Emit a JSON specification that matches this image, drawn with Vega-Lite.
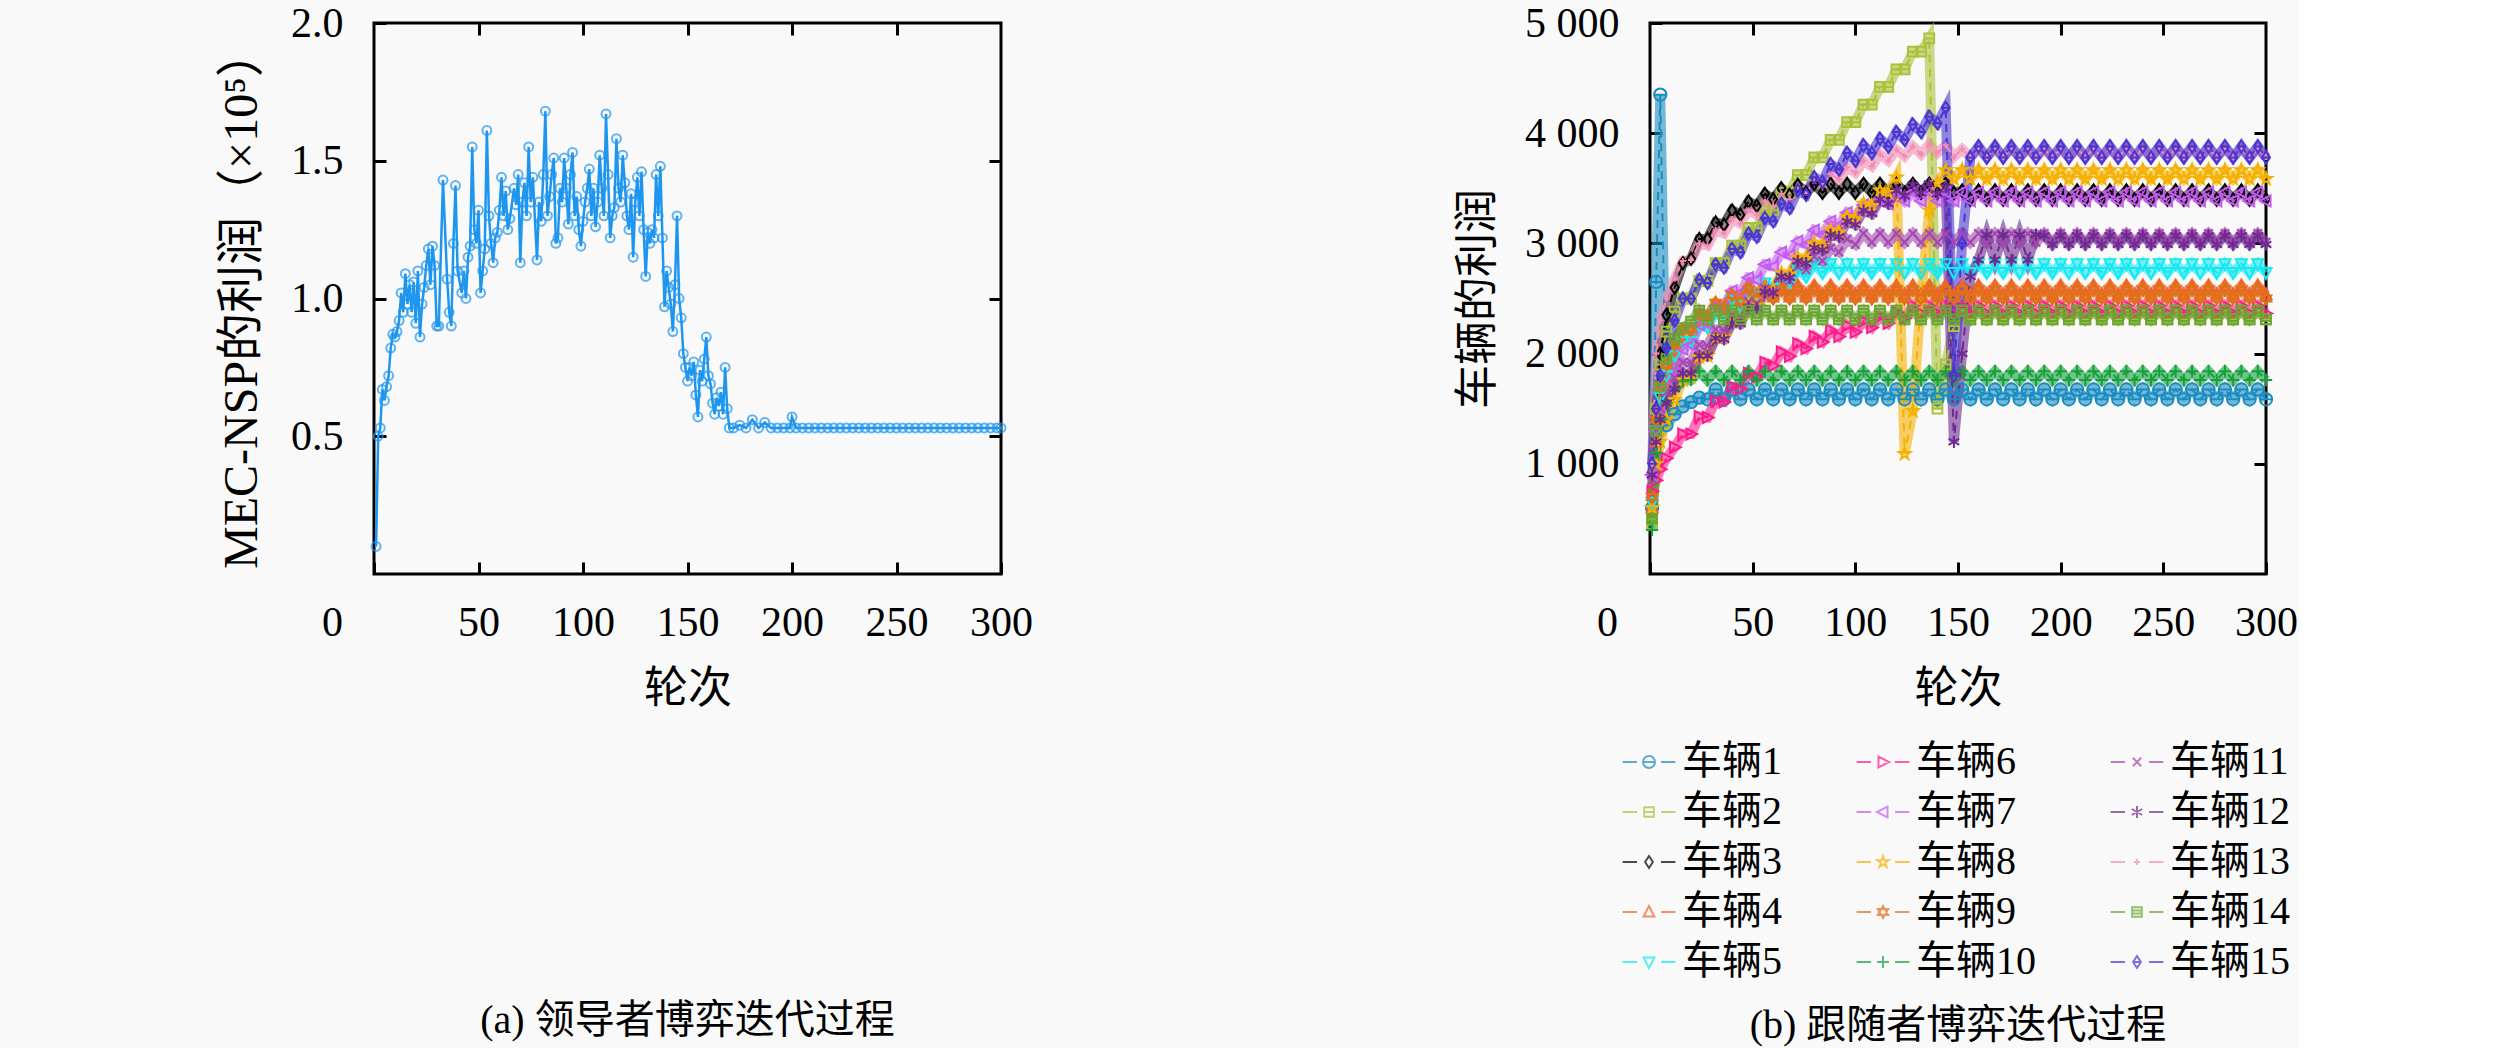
{
"$schema":"https://vega.github.io/schema/vega-lite/v6.json",
"background":"#f9f9f9",
"padding":{"left":216,"top":0,"right":0,"bottom":0},
"spacing":421,
"resolve":{"scale":{"color":"independent","shape":"independent"}},
"config":{
 "font":"Liberation Serif, Noto Sans CJK SC",
 "view":{"stroke":"#000","strokeWidth":3},
 "axis":{"domain":false,"grid":false,"tickColor":"#000","tickWidth":3,"tickSize":-12,"labelColor":"#000","labelFontSize":42,"labelFont":"Liberation Serif","titleFont":"Liberation Serif, Noto Sans CJK SC","titleFontSize":44,"titleFontWeight":"normal","titleColor":"#000","labelFlush":false,"labelOverlap":false},
 "axisX":{"labelPadding":40,"titlePadding":24},
 "axisY":{"labelPadding":43,"titlePadding":24},
 "title":{"fontSize":40,"fontWeight":"normal","color":"#000","font":"Liberation Serif, Noto Sans CJK SC"},
 "legend":{"title":null,"columns":3,"symbolSize":144,"symbolStrokeWidth":2,"labelFontSize":40,"labelFont":"Liberation Serif, Noto Sans CJK SC","labelColor":"#000","labelOffset":13,"rowPadding":10,"columnPadding":70,"labelLimit":300}
},
"hconcat":[
{
 "width":627,"height":551,
 "title":{"text":"(a) 领导者博弈迭代过程","orient":"bottom","offset":290,"anchor":"middle"},
 "data":{"values":[
{"r":1,"p":0.10},{"r":2,"p":0.50},{"r":3,"p":0.53},{"r":4,"p":0.67},{"r":5,"p":0.63},{"r":6,"p":0.68},{"r":7,"p":0.72},{"r":8,"p":0.82},{"r":9,"p":0.87},{"r":10,"p":0.86},
{"r":11,"p":0.88},{"r":12,"p":0.92},{"r":13,"p":1.02},{"r":14,"p":0.95},{"r":15,"p":1.09},{"r":16,"p":0.98},{"r":17,"p":1.05},{"r":18,"p":0.95},{"r":19,"p":1.06},{"r":20,"p":0.91},
{"r":21,"p":1.10},{"r":22,"p":0.86},{"r":23,"p":0.98},{"r":24,"p":1.04},{"r":25,"p":1.12},{"r":26,"p":1.18},{"r":27,"p":1.05},{"r":28,"p":1.19},{"r":29,"p":1.12},{"r":30,"p":0.90},
{"r":31,"p":0.90},{"r":33,"p":1.43},{"r":35,"p":1.07},{"r":36,"p":0.95},{"r":37,"p":0.90},{"r":38,"p":1.20},{"r":39,"p":1.41},{"r":40,"p":1.10},{"r":42,"p":1.02},{"r":43,"p":1.10},
{"r":44,"p":1.00},{"r":45,"p":1.15},{"r":46,"p":1.19},{"r":47,"p":1.55},{"r":48,"p":1.25},{"r":49,"p":1.20},{"r":50,"p":1.32},{"r":51,"p":1.02},{"r":52,"p":1.10},{"r":53,"p":1.18},
{"r":54,"p":1.61},{"r":55,"p":1.30},{"r":56,"p":1.20},{"r":57,"p":1.13},{"r":58,"p":1.22},{"r":59,"p":1.24},{"r":60,"p":1.32},{"r":61,"p":1.44},{"r":62,"p":1.30},{"r":63,"p":1.39},
{"r":64,"p":1.25},{"r":65,"p":1.29},{"r":67,"p":1.40},{"r":68,"p":1.34},{"r":69,"p":1.45},{"r":70,"p":1.13},{"r":71,"p":1.35},{"r":72,"p":1.42},{"r":73,"p":1.30},{"r":74,"p":1.55},
{"r":75,"p":1.35},{"r":76,"p":1.44},{"r":78,"p":1.14},{"r":79,"p":1.35},{"r":80,"p":1.28},{"r":81,"p":1.45},{"r":82,"p":1.68},{"r":83,"p":1.30},{"r":84,"p":1.37},{"r":85,"p":1.45},
{"r":86,"p":1.51},{"r":87,"p":1.20},{"r":88,"p":1.22},{"r":89,"p":1.40},{"r":90,"p":1.35},{"r":91,"p":1.51},{"r":92,"p":1.40},{"r":93,"p":1.27},{"r":94,"p":1.45},{"r":95,"p":1.53},
{"r":96,"p":1.30},{"r":97,"p":1.37},{"r":98,"p":1.25},{"r":99,"p":1.19},{"r":100,"p":1.28},{"r":101,"p":1.35},{"r":102,"p":1.40},{"r":103,"p":1.47},{"r":104,"p":1.30},{"r":105,"p":1.40},
{"r":106,"p":1.26},{"r":107,"p":1.35},{"r":108,"p":1.52},{"r":109,"p":1.40},{"r":110,"p":1.30},{"r":111,"p":1.67},{"r":112,"p":1.45},{"r":113,"p":1.22},{"r":114,"p":1.30},{"r":115,"p":1.33},
{"r":116,"p":1.58},{"r":117,"p":1.40},{"r":118,"p":1.35},{"r":119,"p":1.52},{"r":120,"p":1.42},{"r":121,"p":1.30},{"r":122,"p":1.25},{"r":123,"p":1.38},{"r":124,"p":1.15},{"r":125,"p":1.35},
{"r":126,"p":1.44},{"r":127,"p":1.30},{"r":128,"p":1.46},{"r":129,"p":1.25},{"r":130,"p":1.08},{"r":131,"p":1.24},{"r":132,"p":1.20},{"r":133,"p":1.25},{"r":134,"p":1.22},{"r":135,"p":1.45},
{"r":136,"p":1.30},{"r":137,"p":1.48},{"r":138,"p":1.22},{"r":139,"p":0.97},{"r":140,"p":1.10},{"r":141,"p":1.04},{"r":142,"p":0.98},{"r":143,"p":0.88},{"r":144,"p":1.05},{"r":145,"p":1.30},
{"r":146,"p":1.00},{"r":147,"p":0.93},{"r":148,"p":0.80},{"r":149,"p":0.75},{"r":150,"p":0.70},{"r":151,"p":0.75},{"r":152,"p":0.72},{"r":153,"p":0.77},{"r":154,"p":0.65},{"r":155,"p":0.57},
{"r":156,"p":0.74},{"r":157,"p":0.70},{"r":158,"p":0.78},{"r":159,"p":0.86},{"r":160,"p":0.72},{"r":161,"p":0.69},{"r":162,"p":0.62},{"r":163,"p":0.58},{"r":164,"p":0.64},{"r":165,"p":0.61},
{"r":166,"p":0.66},{"r":167,"p":0.58},{"r":168,"p":0.75},{"r":169,"p":0.60},{"r":170,"p":0.53},{"r":172,"p":0.53},{"r":175,"p":0.54},{"r":178,"p":0.53},{"r":181,"p":0.56},{"r":184,"p":0.53},
{"r":187,"p":0.55},{"r":190,"p":0.53},{"r":193,"p":0.53},{"r":196,"p":0.53},{"r":199,"p":0.53},{"r":200,"p":0.57},{"r":202,"p":0.53},{"r":205,"p":0.53},{"r":208,"p":0.53},{"r":211,"p":0.53},
{"r":214,"p":0.53},{"r":217,"p":0.53},{"r":220,"p":0.53},{"r":223,"p":0.53},{"r":226,"p":0.53},{"r":229,"p":0.53},{"r":232,"p":0.53},{"r":235,"p":0.53},{"r":238,"p":0.53},{"r":241,"p":0.53},
{"r":244,"p":0.53},{"r":247,"p":0.53},{"r":250,"p":0.53},{"r":253,"p":0.53},{"r":256,"p":0.53},{"r":259,"p":0.53},{"r":262,"p":0.53},{"r":265,"p":0.53},{"r":268,"p":0.53},{"r":271,"p":0.53},
{"r":274,"p":0.53},{"r":277,"p":0.53},{"r":280,"p":0.53},{"r":283,"p":0.53},{"r":286,"p":0.53},{"r":289,"p":0.53},{"r":292,"p":0.53},{"r":295,"p":0.53},{"r":298,"p":0.53},{"r":300,"p":0.53}
 ]},
 "layer":[
  {"mark":{"type":"line","color":"#1e96f0","strokeWidth":2.5},
   "encoding":{
    "x":{"field":"r","type":"quantitative","scale":{"domain":[0,300],"nice":false,"zero":false},"axis":{"values":[0,50,100,150,200,250,300],"title":"轮次","labelOffset":{"condition":{"test":"datum.value===0","value":-42},"value":0}}},
    "y":{"field":"p","type":"quantitative","scale":{"domain":[0,2],"nice":false},"axis":{"values":[0.5,1,1.5,2],"format":".1f","title":"MEC-NSP的利润（×10⁵）","titleFontSize":48}}}},
  {"mark":{"type":"point","shape":"circle","filled":false,"color":"#1e96f0","size":80,"strokeWidth":2},
   "encoding":{
    "x":{"field":"r","type":"quantitative","scale":{"domain":[0,300],"nice":false,"zero":false},"axis":null},
    "y":{"field":"p","type":"quantitative","scale":{"domain":[0,2],"nice":false},"axis":null}}},
  {"mark":{"type":"point","opacity":0},
   "encoding":{
    "x":{"field":"r","type":"quantitative","scale":{"domain":[0,300],"nice":false,"zero":false},"axis":{"orient":"top","labels":false,"title":null,"values":[50,100,150,200,250]}},
    "y":{"field":"p","type":"quantitative","scale":{"domain":[0,2],"nice":false},"axis":{"orient":"right","labels":false,"title":null,"values":[0.5,1,1.5]}}}}
 ],
 "resolve":{"axis":{"x":"independent","y":"independent"}}
},
{
 "width":616,"height":551,
 "title":{"text":"(b) 跟随者博弈迭代过程","orient":"bottom","offset":24,"anchor":"middle"},
 "data":{"values":[
{"v":1,"r":1,"y":600},{"v":1,"r":3,"y":2650},{"v":1,"r":5,"y":4350},{"v":1,"r":8,"y":1350},{"v":1,"r":12,"y":1450},{"v":1,"r":16,"y":1520},{"v":1,"r":20,"y":1560},{"v":1,"r":24,"y":1600},
{"v":1,"r":28,"y":1585},{"v":1,"r":32,"y":1675},{"v":1,"r":36,"y":1585},{"v":1,"r":40,"y":1675},{"v":1,"r":44,"y":1585},{"v":1,"r":48,"y":1675},{"v":1,"r":52,"y":1585},{"v":1,"r":56,"y":1675},{"v":1,"r":60,"y":1585},{"v":1,"r":64,"y":1675},{"v":1,"r":68,"y":1585},{"v":1,"r":72,"y":1675},{"v":1,"r":76,"y":1585},{"v":1,"r":80,"y":1675},{"v":1,"r":84,"y":1585},{"v":1,"r":88,"y":1675},{"v":1,"r":92,"y":1585},{"v":1,"r":96,"y":1675},{"v":1,"r":100,"y":1585},{"v":1,"r":104,"y":1675},{"v":1,"r":108,"y":1585},{"v":1,"r":112,"y":1675},{"v":1,"r":116,"y":1585},{"v":1,"r":120,"y":1675},{"v":1,"r":124,"y":1585},{"v":1,"r":128,"y":1675},{"v":1,"r":132,"y":1585},{"v":1,"r":136,"y":1675},{"v":1,"r":140,"y":1585},{"v":1,"r":144,"y":1675},{"v":1,"r":148,"y":1585},{"v":1,"r":152,"y":1675},{"v":1,"r":156,"y":1585},{"v":1,"r":160,"y":1675},{"v":1,"r":164,"y":1585},{"v":1,"r":168,"y":1675},{"v":1,"r":172,"y":1585},{"v":1,"r":176,"y":1675},{"v":1,"r":180,"y":1585},{"v":1,"r":184,"y":1675},{"v":1,"r":188,"y":1585},{"v":1,"r":192,"y":1675},{"v":1,"r":196,"y":1585},{"v":1,"r":200,"y":1675},{"v":1,"r":204,"y":1585},{"v":1,"r":208,"y":1675},{"v":1,"r":212,"y":1585},{"v":1,"r":216,"y":1675},{"v":1,"r":220,"y":1585},{"v":1,"r":224,"y":1675},{"v":1,"r":228,"y":1585},{"v":1,"r":232,"y":1675},{"v":1,"r":236,"y":1585},{"v":1,"r":240,"y":1675},{"v":1,"r":244,"y":1585},{"v":1,"r":248,"y":1675},{"v":1,"r":252,"y":1585},{"v":1,"r":256,"y":1675},{"v":1,"r":260,"y":1585},{"v":1,"r":264,"y":1675},{"v":1,"r":268,"y":1585},{"v":1,"r":272,"y":1675},{"v":1,"r":276,"y":1585},{"v":1,"r":280,"y":1675},{"v":1,"r":284,"y":1585},{"v":1,"r":288,"y":1675},{"v":1,"r":292,"y":1585},{"v":1,"r":296,"y":1675},{"v":1,"r":300,"y":1585},
{"v":2,"r":1,"y":450},{"v":2,"r":3,"y":1500},{"v":2,"r":5,"y":1900},{"v":2,"r":8,"y":2200},{"v":2,"r":12,"y":2380},{"v":2,"r":16,"y":2500},{"v":2,"r":20,"y":2500},{"v":2,"r":24,"y":2660},{"v":2,"r":28,"y":2660},{"v":2,"r":32,"y":2820},{"v":2,"r":36,"y":2820},{"v":2,"r":40,"y":2980},{"v":2,"r":44,"y":2980},{"v":2,"r":48,"y":3140},{"v":2,"r":52,"y":3140},{"v":2,"r":56,"y":3300},{"v":2,"r":60,"y":3300},{"v":2,"r":64,"y":3460},{"v":2,"r":68,"y":3460},{"v":2,"r":72,"y":3620},{"v":2,"r":76,"y":3620},{"v":2,"r":80,"y":3780},{"v":2,"r":84,"y":3780},{"v":2,"r":88,"y":3940},{"v":2,"r":92,"y":3940},{"v":2,"r":96,"y":4100},{"v":2,"r":100,"y":4100},{"v":2,"r":104,"y":4260},{"v":2,"r":108,"y":4260},{"v":2,"r":112,"y":4420},{"v":2,"r":116,"y":4420},{"v":2,"r":120,"y":4580},{"v":2,"r":124,"y":4580},{"v":2,"r":128,"y":4740},{"v":2,"r":132,"y":4740},{"v":2,"r":136,"y":4860},{"v":2,"r":140,"y":1500},{"v":2,"r":144,"y":1900},{"v":2,"r":148,"y":2250},
{"v":2,"r":152,"y":2390},{"v":2,"r":156,"y":2310},{"v":2,"r":160,"y":2390},{"v":2,"r":164,"y":2310},{"v":2,"r":168,"y":2390},{"v":2,"r":172,"y":2310},{"v":2,"r":176,"y":2390},{"v":2,"r":180,"y":2310},{"v":2,"r":184,"y":2390},{"v":2,"r":188,"y":2310},{"v":2,"r":192,"y":2390},{"v":2,"r":196,"y":2310},{"v":2,"r":200,"y":2390},{"v":2,"r":204,"y":2310},{"v":2,"r":208,"y":2390},{"v":2,"r":212,"y":2310},{"v":2,"r":216,"y":2390},{"v":2,"r":220,"y":2310},{"v":2,"r":224,"y":2390},{"v":2,"r":228,"y":2310},{"v":2,"r":232,"y":2390},{"v":2,"r":236,"y":2310},{"v":2,"r":240,"y":2390},{"v":2,"r":244,"y":2310},{"v":2,"r":248,"y":2390},{"v":2,"r":252,"y":2310},{"v":2,"r":256,"y":2390},{"v":2,"r":260,"y":2310},{"v":2,"r":264,"y":2390},{"v":2,"r":268,"y":2310},{"v":2,"r":272,"y":2390},{"v":2,"r":276,"y":2310},{"v":2,"r":280,"y":2390},{"v":2,"r":284,"y":2310},{"v":2,"r":288,"y":2390},{"v":2,"r":292,"y":2310},{"v":2,"r":296,"y":2390},{"v":2,"r":300,"y":2310},
{"v":3,"r":1,"y":700},{"v":3,"r":3,"y":1500},{"v":3,"r":5,"y":2000},{"v":3,"r":8,"y":2350},{"v":3,"r":12,"y":2600},{"v":3,"r":16,"y":2820},{"v":3,"r":20,"y":2860},{"v":3,"r":24,"y":3040},{"v":3,"r":28,"y":3040},{"v":3,"r":32,"y":3190},{"v":3,"r":36,"y":3170},{"v":3,"r":40,"y":3300},{"v":3,"r":44,"y":3260},{"v":3,"r":48,"y":3380},{"v":3,"r":52,"y":3340},{"v":3,"r":56,"y":3450},{"v":3,"r":60,"y":3400},{"v":3,"r":64,"y":3500},{"v":3,"r":68,"y":3440},{"v":3,"r":72,"y":3530},{"v":3,"r":76,"y":3460},
{"v":3,"r":80,"y":3540},{"v":3,"r":84,"y":3460},{"v":3,"r":88,"y":3540},{"v":3,"r":92,"y":3460},{"v":3,"r":96,"y":3540},{"v":3,"r":100,"y":3460},{"v":3,"r":104,"y":3540},{"v":3,"r":108,"y":3460},{"v":3,"r":112,"y":3540},{"v":3,"r":116,"y":3460},{"v":3,"r":120,"y":3540},{"v":3,"r":124,"y":3460},{"v":3,"r":128,"y":3540},{"v":3,"r":132,"y":3460},{"v":3,"r":136,"y":3540},{"v":3,"r":140,"y":3460},{"v":3,"r":144,"y":3540},{"v":3,"r":148,"y":3460},
{"v":3,"r":152,"y":3480},{"v":3,"r":156,"y":3400},{"v":3,"r":160,"y":3480},{"v":3,"r":164,"y":3400},{"v":3,"r":168,"y":3480},{"v":3,"r":172,"y":3400},{"v":3,"r":176,"y":3480},{"v":3,"r":180,"y":3400},{"v":3,"r":184,"y":3480},{"v":3,"r":188,"y":3400},{"v":3,"r":192,"y":3480},{"v":3,"r":196,"y":3400},{"v":3,"r":200,"y":3480},{"v":3,"r":204,"y":3400},{"v":3,"r":208,"y":3480},{"v":3,"r":212,"y":3400},{"v":3,"r":216,"y":3480},{"v":3,"r":220,"y":3400},{"v":3,"r":224,"y":3480},{"v":3,"r":228,"y":3400},{"v":3,"r":232,"y":3480},{"v":3,"r":236,"y":3400},{"v":3,"r":240,"y":3480},{"v":3,"r":244,"y":3400},{"v":3,"r":248,"y":3480},{"v":3,"r":252,"y":3400},{"v":3,"r":256,"y":3480},{"v":3,"r":260,"y":3400},{"v":3,"r":264,"y":3480},{"v":3,"r":268,"y":3400},{"v":3,"r":272,"y":3480},{"v":3,"r":276,"y":3400},{"v":3,"r":280,"y":3480},{"v":3,"r":284,"y":3400},{"v":3,"r":288,"y":3480},{"v":3,"r":292,"y":3400},{"v":3,"r":296,"y":3480},{"v":3,"r":300,"y":3400},
{"v":4,"r":1,"y":600},{"v":4,"r":3,"y":1200},{"v":4,"r":5,"y":1500},{"v":4,"r":8,"y":1750},{"v":4,"r":12,"y":1950},{"v":4,"r":16,"y":2120},{"v":4,"r":20,"y":2140},{"v":4,"r":24,"y":2300},{"v":4,"r":28,"y":2290},{"v":4,"r":32,"y":2430},{"v":4,"r":36,"y":2400},{"v":4,"r":40,"y":2530},{"v":4,"r":44,"y":2490},
{"v":4,"r":48,"y":2615},{"v":4,"r":52,"y":2535},{"v":4,"r":56,"y":2615},{"v":4,"r":60,"y":2535},{"v":4,"r":64,"y":2615},{"v":4,"r":68,"y":2535},{"v":4,"r":72,"y":2615},{"v":4,"r":76,"y":2535},{"v":4,"r":80,"y":2615},{"v":4,"r":84,"y":2535},{"v":4,"r":88,"y":2615},{"v":4,"r":92,"y":2535},{"v":4,"r":96,"y":2615},{"v":4,"r":100,"y":2535},{"v":4,"r":104,"y":2615},{"v":4,"r":108,"y":2535},{"v":4,"r":112,"y":2615},{"v":4,"r":116,"y":2535},{"v":4,"r":120,"y":2615},{"v":4,"r":124,"y":2535},{"v":4,"r":128,"y":2615},{"v":4,"r":132,"y":2535},{"v":4,"r":136,"y":2615},{"v":4,"r":140,"y":2535},{"v":4,"r":144,"y":2615},{"v":4,"r":148,"y":2535},{"v":4,"r":152,"y":2615},{"v":4,"r":156,"y":2535},{"v":4,"r":160,"y":2615},{"v":4,"r":164,"y":2535},{"v":4,"r":168,"y":2615},{"v":4,"r":172,"y":2535},{"v":4,"r":176,"y":2615},{"v":4,"r":180,"y":2535},{"v":4,"r":184,"y":2615},{"v":4,"r":188,"y":2535},{"v":4,"r":192,"y":2615},{"v":4,"r":196,"y":2535},{"v":4,"r":200,"y":2615},{"v":4,"r":204,"y":2535},{"v":4,"r":208,"y":2615},{"v":4,"r":212,"y":2535},{"v":4,"r":216,"y":2615},{"v":4,"r":220,"y":2535},{"v":4,"r":224,"y":2615},{"v":4,"r":228,"y":2535},{"v":4,"r":232,"y":2615},{"v":4,"r":236,"y":2535},{"v":4,"r":240,"y":2615},{"v":4,"r":244,"y":2535},{"v":4,"r":248,"y":2615},{"v":4,"r":252,"y":2535},{"v":4,"r":256,"y":2615},{"v":4,"r":260,"y":2535},{"v":4,"r":264,"y":2615},{"v":4,"r":268,"y":2535},{"v":4,"r":272,"y":2615},{"v":4,"r":276,"y":2535},{"v":4,"r":280,"y":2615},{"v":4,"r":284,"y":2535},{"v":4,"r":288,"y":2615},{"v":4,"r":292,"y":2535},{"v":4,"r":296,"y":2615},{"v":4,"r":300,"y":2535},
{"v":5,"r":1,"y":650},{"v":5,"r":3,"y":1300},{"v":5,"r":5,"y":1600},{"v":5,"r":8,"y":1800},{"v":5,"r":12,"y":1980},{"v":5,"r":16,"y":2110},{"v":5,"r":20,"y":2110},{"v":5,"r":24,"y":2260},{"v":5,"r":28,"y":2240},{"v":5,"r":32,"y":2380},{"v":5,"r":36,"y":2350},{"v":5,"r":40,"y":2480},{"v":5,"r":44,"y":2440},{"v":5,"r":48,"y":2560},{"v":5,"r":52,"y":2520},{"v":5,"r":56,"y":2640},{"v":5,"r":60,"y":2590},{"v":5,"r":64,"y":2700},{"v":5,"r":68,"y":2650},{"v":5,"r":72,"y":2760},{"v":5,"r":76,"y":2700},
{"v":5,"r":80,"y":2815},{"v":5,"r":84,"y":2735},{"v":5,"r":88,"y":2815},{"v":5,"r":92,"y":2735},{"v":5,"r":96,"y":2815},{"v":5,"r":100,"y":2735},{"v":5,"r":104,"y":2815},{"v":5,"r":108,"y":2735},{"v":5,"r":112,"y":2815},{"v":5,"r":116,"y":2735},{"v":5,"r":120,"y":2815},{"v":5,"r":124,"y":2735},{"v":5,"r":128,"y":2815},{"v":5,"r":132,"y":2735},{"v":5,"r":136,"y":2815},{"v":5,"r":140,"y":2735},{"v":5,"r":144,"y":2815},{"v":5,"r":148,"y":2735},{"v":5,"r":152,"y":2815},{"v":5,"r":156,"y":2735},{"v":5,"r":160,"y":2815},{"v":5,"r":164,"y":2735},{"v":5,"r":168,"y":2815},{"v":5,"r":172,"y":2735},{"v":5,"r":176,"y":2815},{"v":5,"r":180,"y":2735},{"v":5,"r":184,"y":2815},{"v":5,"r":188,"y":2735},{"v":5,"r":192,"y":2815},{"v":5,"r":196,"y":2735},{"v":5,"r":200,"y":2815},{"v":5,"r":204,"y":2735},{"v":5,"r":208,"y":2815},{"v":5,"r":212,"y":2735},{"v":5,"r":216,"y":2815},{"v":5,"r":220,"y":2735},{"v":5,"r":224,"y":2815},{"v":5,"r":228,"y":2735},{"v":5,"r":232,"y":2815},{"v":5,"r":236,"y":2735},{"v":5,"r":240,"y":2815},{"v":5,"r":244,"y":2735},{"v":5,"r":248,"y":2815},{"v":5,"r":252,"y":2735},{"v":5,"r":256,"y":2815},{"v":5,"r":260,"y":2735},{"v":5,"r":264,"y":2815},{"v":5,"r":268,"y":2735},{"v":5,"r":272,"y":2815},{"v":5,"r":276,"y":2735},{"v":5,"r":280,"y":2815},{"v":5,"r":284,"y":2735},{"v":5,"r":288,"y":2815},{"v":5,"r":292,"y":2735},{"v":5,"r":296,"y":2815},{"v":5,"r":300,"y":2735},
{"v":6,"r":1,"y":750},{"v":6,"r":3,"y":850},{"v":6,"r":5,"y":950},{"v":6,"r":8,"y":1050},{"v":6,"r":12,"y":1150},{"v":6,"r":16,"y":1270},{"v":6,"r":20,"y":1270},{"v":6,"r":24,"y":1430},{"v":6,"r":28,"y":1420},{"v":6,"r":32,"y":1570},{"v":6,"r":36,"y":1560},{"v":6,"r":40,"y":1700},{"v":6,"r":44,"y":1680},{"v":6,"r":48,"y":1820},{"v":6,"r":52,"y":1790},{"v":6,"r":56,"y":1920},{"v":6,"r":60,"y":1890},{"v":6,"r":64,"y":2015},{"v":6,"r":68,"y":1975},{"v":6,"r":72,"y":2090},{"v":6,"r":76,"y":2045},{"v":6,"r":80,"y":2155},{"v":6,"r":84,"y":2105},{"v":6,"r":88,"y":2210},{"v":6,"r":92,"y":2155},{"v":6,"r":96,"y":2255},{"v":6,"r":100,"y":2195},{"v":6,"r":104,"y":2295},{"v":6,"r":108,"y":2235},{"v":6,"r":112,"y":2335},{"v":6,"r":116,"y":2275},{"v":6,"r":120,"y":2375},{"v":6,"r":124,"y":2320},
{"v":6,"r":128,"y":2435},{"v":6,"r":132,"y":2365},{"v":6,"r":136,"y":2435},{"v":6,"r":140,"y":2365},{"v":6,"r":144,"y":2435},{"v":6,"r":148,"y":2365},{"v":6,"r":152,"y":2435},{"v":6,"r":156,"y":2365},{"v":6,"r":160,"y":2435},{"v":6,"r":164,"y":2365},{"v":6,"r":168,"y":2435},{"v":6,"r":172,"y":2365},{"v":6,"r":176,"y":2435},{"v":6,"r":180,"y":2365},{"v":6,"r":184,"y":2435},{"v":6,"r":188,"y":2365},{"v":6,"r":192,"y":2435},{"v":6,"r":196,"y":2365},{"v":6,"r":200,"y":2435},{"v":6,"r":204,"y":2365},{"v":6,"r":208,"y":2435},{"v":6,"r":212,"y":2365},{"v":6,"r":216,"y":2435},{"v":6,"r":220,"y":2365},{"v":6,"r":224,"y":2435},{"v":6,"r":228,"y":2365},{"v":6,"r":232,"y":2435},{"v":6,"r":236,"y":2365},{"v":6,"r":240,"y":2435},{"v":6,"r":244,"y":2365},{"v":6,"r":248,"y":2435},{"v":6,"r":252,"y":2365},{"v":6,"r":256,"y":2435},{"v":6,"r":260,"y":2365},{"v":6,"r":264,"y":2435},{"v":6,"r":268,"y":2365},{"v":6,"r":272,"y":2435},{"v":6,"r":276,"y":2365},{"v":6,"r":280,"y":2435},{"v":6,"r":284,"y":2365},{"v":6,"r":288,"y":2435},{"v":6,"r":292,"y":2365},{"v":6,"r":296,"y":2435},{"v":6,"r":300,"y":2365},
{"v":7,"r":1,"y":900},{"v":7,"r":3,"y":1300},{"v":7,"r":5,"y":1500},{"v":7,"r":8,"y":1700},{"v":7,"r":12,"y":1880},{"v":7,"r":16,"y":2040},{"v":7,"r":20,"y":2080},{"v":7,"r":24,"y":2260},{"v":7,"r":28,"y":2270},{"v":7,"r":32,"y":2430},{"v":7,"r":36,"y":2420},{"v":7,"r":40,"y":2570},{"v":7,"r":44,"y":2550},{"v":7,"r":48,"y":2690},{"v":7,"r":52,"y":2670},{"v":7,"r":56,"y":2810},{"v":7,"r":60,"y":2790},{"v":7,"r":64,"y":2920},{"v":7,"r":68,"y":2890},{"v":7,"r":72,"y":3020},{"v":7,"r":76,"y":2990},{"v":7,"r":80,"y":3120},{"v":7,"r":84,"y":3080},{"v":7,"r":88,"y":3200},{"v":7,"r":92,"y":3160},{"v":7,"r":96,"y":3280},{"v":7,"r":100,"y":3240},{"v":7,"r":104,"y":3350},{"v":7,"r":108,"y":3300},{"v":7,"r":112,"y":3410},{"v":7,"r":116,"y":3360},{"v":7,"r":120,"y":3460},
{"v":7,"r":124,"y":3385},{"v":7,"r":128,"y":3465},{"v":7,"r":132,"y":3385},{"v":7,"r":136,"y":3465},{"v":7,"r":140,"y":3385},{"v":7,"r":144,"y":3465},{"v":7,"r":148,"y":3385},{"v":7,"r":152,"y":3465},{"v":7,"r":156,"y":3385},{"v":7,"r":160,"y":3465},{"v":7,"r":164,"y":3385},{"v":7,"r":168,"y":3465},{"v":7,"r":172,"y":3385},{"v":7,"r":176,"y":3465},{"v":7,"r":180,"y":3385},{"v":7,"r":184,"y":3465},{"v":7,"r":188,"y":3385},{"v":7,"r":192,"y":3465},{"v":7,"r":196,"y":3385},{"v":7,"r":200,"y":3465},{"v":7,"r":204,"y":3385},{"v":7,"r":208,"y":3465},{"v":7,"r":212,"y":3385},{"v":7,"r":216,"y":3465},{"v":7,"r":220,"y":3385},{"v":7,"r":224,"y":3465},{"v":7,"r":228,"y":3385},{"v":7,"r":232,"y":3465},{"v":7,"r":236,"y":3385},{"v":7,"r":240,"y":3465},{"v":7,"r":244,"y":3385},{"v":7,"r":248,"y":3465},{"v":7,"r":252,"y":3385},{"v":7,"r":256,"y":3465},{"v":7,"r":260,"y":3385},{"v":7,"r":264,"y":3465},{"v":7,"r":268,"y":3385},{"v":7,"r":272,"y":3465},{"v":7,"r":276,"y":3385},{"v":7,"r":280,"y":3465},{"v":7,"r":284,"y":3385},{"v":7,"r":288,"y":3465},{"v":7,"r":292,"y":3385},{"v":7,"r":296,"y":3465},{"v":7,"r":300,"y":3385},
{"v":8,"r":1,"y":600},{"v":8,"r":3,"y":1000},{"v":8,"r":5,"y":1200},{"v":8,"r":8,"y":1400},{"v":8,"r":12,"y":1580},{"v":8,"r":16,"y":1760},{"v":8,"r":20,"y":1790},{"v":8,"r":24,"y":1970},{"v":8,"r":28,"y":1980},{"v":8,"r":32,"y":2150},{"v":8,"r":36,"y":2150},{"v":8,"r":40,"y":2310},{"v":8,"r":44,"y":2300},{"v":8,"r":48,"y":2450},{"v":8,"r":52,"y":2440},{"v":8,"r":56,"y":2590},{"v":8,"r":60,"y":2580},{"v":8,"r":64,"y":2730},{"v":8,"r":68,"y":2720},{"v":8,"r":72,"y":2870},{"v":8,"r":76,"y":2860},{"v":8,"r":80,"y":3000},{"v":8,"r":84,"y":2980},{"v":8,"r":88,"y":3120},{"v":8,"r":92,"y":3100},{"v":8,"r":96,"y":3240},{"v":8,"r":100,"y":3220},{"v":8,"r":104,"y":3360},{"v":8,"r":108,"y":3340},{"v":8,"r":112,"y":3480},{"v":8,"r":116,"y":3460},{"v":8,"r":120,"y":3600},{"v":8,"r":124,"y":1090},{"v":8,"r":128,"y":1480},{"v":8,"r":132,"y":2500},{"v":8,"r":136,"y":3300},{"v":8,"r":140,"y":3550},
{"v":8,"r":144,"y":3665},{"v":8,"r":148,"y":3585},{"v":8,"r":152,"y":3665},{"v":8,"r":156,"y":3585},{"v":8,"r":160,"y":3665},{"v":8,"r":164,"y":3585},{"v":8,"r":168,"y":3665},{"v":8,"r":172,"y":3585},{"v":8,"r":176,"y":3665},{"v":8,"r":180,"y":3585},{"v":8,"r":184,"y":3665},{"v":8,"r":188,"y":3585},{"v":8,"r":192,"y":3665},{"v":8,"r":196,"y":3585},{"v":8,"r":200,"y":3665},{"v":8,"r":204,"y":3585},{"v":8,"r":208,"y":3665},{"v":8,"r":212,"y":3585},{"v":8,"r":216,"y":3665},{"v":8,"r":220,"y":3585},{"v":8,"r":224,"y":3665},{"v":8,"r":228,"y":3585},{"v":8,"r":232,"y":3665},{"v":8,"r":236,"y":3585},{"v":8,"r":240,"y":3665},{"v":8,"r":244,"y":3585},{"v":8,"r":248,"y":3665},{"v":8,"r":252,"y":3585},{"v":8,"r":256,"y":3665},{"v":8,"r":260,"y":3585},{"v":8,"r":264,"y":3665},{"v":8,"r":268,"y":3585},{"v":8,"r":272,"y":3665},{"v":8,"r":276,"y":3585},{"v":8,"r":280,"y":3665},{"v":8,"r":284,"y":3585},{"v":8,"r":288,"y":3665},{"v":8,"r":292,"y":3585},{"v":8,"r":296,"y":3665},{"v":8,"r":300,"y":3585},
{"v":9,"r":1,"y":700},{"v":9,"r":3,"y":1400},{"v":9,"r":5,"y":1700},{"v":9,"r":8,"y":1900},{"v":9,"r":12,"y":2080},{"v":9,"r":16,"y":2220},{"v":9,"r":20,"y":2220},{"v":9,"r":24,"y":2360},{"v":9,"r":28,"y":2340},{"v":9,"r":32,"y":2460},{"v":9,"r":36,"y":2420},{"v":9,"r":40,"y":2530},{"v":9,"r":44,"y":2470},
{"v":9,"r":48,"y":2580},{"v":9,"r":52,"y":2500},{"v":9,"r":56,"y":2580},{"v":9,"r":60,"y":2500},{"v":9,"r":64,"y":2580},{"v":9,"r":68,"y":2500},{"v":9,"r":72,"y":2580},{"v":9,"r":76,"y":2500},{"v":9,"r":80,"y":2580},{"v":9,"r":84,"y":2500},{"v":9,"r":88,"y":2580},{"v":9,"r":92,"y":2500},{"v":9,"r":96,"y":2580},{"v":9,"r":100,"y":2500},{"v":9,"r":104,"y":2580},{"v":9,"r":108,"y":2500},{"v":9,"r":112,"y":2580},{"v":9,"r":116,"y":2500},{"v":9,"r":120,"y":2580},{"v":9,"r":124,"y":2500},{"v":9,"r":128,"y":2580},{"v":9,"r":132,"y":2500},{"v":9,"r":136,"y":2580},{"v":9,"r":140,"y":2500},{"v":9,"r":144,"y":2580},{"v":9,"r":148,"y":2500},{"v":9,"r":152,"y":2580},{"v":9,"r":156,"y":2500},{"v":9,"r":160,"y":2580},{"v":9,"r":164,"y":2500},{"v":9,"r":168,"y":2580},{"v":9,"r":172,"y":2500},{"v":9,"r":176,"y":2580},{"v":9,"r":180,"y":2500},{"v":9,"r":184,"y":2580},{"v":9,"r":188,"y":2500},{"v":9,"r":192,"y":2580},{"v":9,"r":196,"y":2500},{"v":9,"r":200,"y":2580},{"v":9,"r":204,"y":2500},{"v":9,"r":208,"y":2580},{"v":9,"r":212,"y":2500},{"v":9,"r":216,"y":2580},{"v":9,"r":220,"y":2500},{"v":9,"r":224,"y":2580},{"v":9,"r":228,"y":2500},{"v":9,"r":232,"y":2580},{"v":9,"r":236,"y":2500},{"v":9,"r":240,"y":2580},{"v":9,"r":244,"y":2500},{"v":9,"r":248,"y":2580},{"v":9,"r":252,"y":2500},{"v":9,"r":256,"y":2580},{"v":9,"r":260,"y":2500},{"v":9,"r":264,"y":2580},{"v":9,"r":268,"y":2500},{"v":9,"r":272,"y":2580},{"v":9,"r":276,"y":2500},{"v":9,"r":280,"y":2580},{"v":9,"r":284,"y":2500},{"v":9,"r":288,"y":2580},{"v":9,"r":292,"y":2500},{"v":9,"r":296,"y":2580},{"v":9,"r":300,"y":2500},
{"v":10,"r":1,"y":400},{"v":10,"r":3,"y":1100},{"v":10,"r":5,"y":1400},{"v":10,"r":8,"y":1550},{"v":10,"r":12,"y":1680},{"v":10,"r":16,"y":1750},{"v":10,"r":20,"y":1760},
{"v":10,"r":24,"y":1840},{"v":10,"r":28,"y":1760},{"v":10,"r":32,"y":1840},{"v":10,"r":36,"y":1760},{"v":10,"r":40,"y":1840},{"v":10,"r":44,"y":1760},{"v":10,"r":48,"y":1840},{"v":10,"r":52,"y":1760},{"v":10,"r":56,"y":1840},{"v":10,"r":60,"y":1760},{"v":10,"r":64,"y":1840},{"v":10,"r":68,"y":1760},{"v":10,"r":72,"y":1840},{"v":10,"r":76,"y":1760},{"v":10,"r":80,"y":1840},{"v":10,"r":84,"y":1760},{"v":10,"r":88,"y":1840},{"v":10,"r":92,"y":1760},{"v":10,"r":96,"y":1840},{"v":10,"r":100,"y":1760},{"v":10,"r":104,"y":1840},{"v":10,"r":108,"y":1760},{"v":10,"r":112,"y":1840},{"v":10,"r":116,"y":1760},{"v":10,"r":120,"y":1840},{"v":10,"r":124,"y":1760},{"v":10,"r":128,"y":1840},{"v":10,"r":132,"y":1760},{"v":10,"r":136,"y":1840},{"v":10,"r":140,"y":1760},{"v":10,"r":144,"y":1840},{"v":10,"r":148,"y":1760},{"v":10,"r":152,"y":1840},{"v":10,"r":156,"y":1760},{"v":10,"r":160,"y":1840},{"v":10,"r":164,"y":1760},{"v":10,"r":168,"y":1840},{"v":10,"r":172,"y":1760},{"v":10,"r":176,"y":1840},{"v":10,"r":180,"y":1760},{"v":10,"r":184,"y":1840},{"v":10,"r":188,"y":1760},{"v":10,"r":192,"y":1840},{"v":10,"r":196,"y":1760},{"v":10,"r":200,"y":1840},{"v":10,"r":204,"y":1760},{"v":10,"r":208,"y":1840},{"v":10,"r":212,"y":1760},{"v":10,"r":216,"y":1840},{"v":10,"r":220,"y":1760},{"v":10,"r":224,"y":1840},{"v":10,"r":228,"y":1760},{"v":10,"r":232,"y":1840},{"v":10,"r":236,"y":1760},{"v":10,"r":240,"y":1840},{"v":10,"r":244,"y":1760},{"v":10,"r":248,"y":1840},{"v":10,"r":252,"y":1760},{"v":10,"r":256,"y":1840},{"v":10,"r":260,"y":1760},{"v":10,"r":264,"y":1840},{"v":10,"r":268,"y":1760},{"v":10,"r":272,"y":1840},{"v":10,"r":276,"y":1760},{"v":10,"r":280,"y":1840},{"v":10,"r":284,"y":1760},{"v":10,"r":288,"y":1840},{"v":10,"r":292,"y":1760},{"v":10,"r":296,"y":1840},{"v":10,"r":300,"y":1760},
{"v":11,"r":1,"y":850},{"v":11,"r":3,"y":1300},{"v":11,"r":5,"y":1500},{"v":11,"r":8,"y":1650},{"v":11,"r":12,"y":1780},{"v":11,"r":16,"y":1920},{"v":11,"r":20,"y":1920},{"v":11,"r":24,"y":2080},{"v":11,"r":28,"y":2070},{"v":11,"r":32,"y":2220},{"v":11,"r":36,"y":2210},{"v":11,"r":40,"y":2350},{"v":11,"r":44,"y":2330},{"v":11,"r":48,"y":2470},{"v":11,"r":52,"y":2450},{"v":11,"r":56,"y":2590},{"v":11,"r":60,"y":2560},{"v":11,"r":64,"y":2690},{"v":11,"r":68,"y":2660},{"v":11,"r":72,"y":2790},{"v":11,"r":76,"y":2760},{"v":11,"r":80,"y":2880},{"v":11,"r":84,"y":2840},{"v":11,"r":88,"y":2960},{"v":11,"r":92,"y":2920},{"v":11,"r":96,"y":3040},{"v":11,"r":100,"y":2990},{"v":11,"r":104,"y":3090},
{"v":11,"r":108,"y":3010},{"v":11,"r":112,"y":3090},{"v":11,"r":116,"y":3010},{"v":11,"r":120,"y":3090},{"v":11,"r":124,"y":3010},{"v":11,"r":128,"y":3090},{"v":11,"r":132,"y":3010},{"v":11,"r":136,"y":3090},{"v":11,"r":140,"y":3010},{"v":11,"r":144,"y":3090},{"v":11,"r":148,"y":3010},{"v":11,"r":152,"y":3090},{"v":11,"r":156,"y":3010},{"v":11,"r":160,"y":3090},{"v":11,"r":164,"y":3010},{"v":11,"r":168,"y":3090},{"v":11,"r":172,"y":3010},{"v":11,"r":176,"y":3090},{"v":11,"r":180,"y":3010},{"v":11,"r":184,"y":3090},{"v":11,"r":188,"y":3010},{"v":11,"r":192,"y":3090},{"v":11,"r":196,"y":3010},{"v":11,"r":200,"y":3090},{"v":11,"r":204,"y":3010},{"v":11,"r":208,"y":3090},{"v":11,"r":212,"y":3010},{"v":11,"r":216,"y":3090},{"v":11,"r":220,"y":3010},{"v":11,"r":224,"y":3090},{"v":11,"r":228,"y":3010},{"v":11,"r":232,"y":3090},{"v":11,"r":236,"y":3010},{"v":11,"r":240,"y":3090},{"v":11,"r":244,"y":3010},{"v":11,"r":248,"y":3090},{"v":11,"r":252,"y":3010},{"v":11,"r":256,"y":3090},{"v":11,"r":260,"y":3010},{"v":11,"r":264,"y":3090},{"v":11,"r":268,"y":3010},{"v":11,"r":272,"y":3090},{"v":11,"r":276,"y":3010},{"v":11,"r":280,"y":3090},{"v":11,"r":284,"y":3010},{"v":11,"r":288,"y":3090},{"v":11,"r":292,"y":3010},{"v":11,"r":296,"y":3090},{"v":11,"r":300,"y":3010},
{"v":12,"r":1,"y":900},{"v":12,"r":3,"y":1200},{"v":12,"r":5,"y":1400},{"v":12,"r":8,"y":1550},{"v":12,"r":12,"y":1680},{"v":12,"r":16,"y":1820},{"v":12,"r":20,"y":1820},{"v":12,"r":24,"y":1980},{"v":12,"r":28,"y":1980},{"v":12,"r":32,"y":2140},{"v":12,"r":36,"y":2130},{"v":12,"r":40,"y":2280},{"v":12,"r":44,"y":2270},{"v":12,"r":48,"y":2420},{"v":12,"r":52,"y":2410},{"v":12,"r":56,"y":2560},{"v":12,"r":60,"y":2550},{"v":12,"r":64,"y":2700},{"v":12,"r":68,"y":2690},{"v":12,"r":72,"y":2840},{"v":12,"r":76,"y":2820},{"v":12,"r":80,"y":2960},{"v":12,"r":84,"y":2940},{"v":12,"r":88,"y":3080},{"v":12,"r":92,"y":3060},{"v":12,"r":96,"y":3200},{"v":12,"r":100,"y":3170},{"v":12,"r":104,"y":3300},{"v":12,"r":108,"y":3270},{"v":12,"r":112,"y":3400},{"v":12,"r":116,"y":3360},{"v":12,"r":120,"y":3480},{"v":12,"r":124,"y":3430},{"v":12,"r":128,"y":3530},{"v":12,"r":132,"y":3460},{"v":12,"r":136,"y":3540},{"v":12,"r":140,"y":3450},{"v":12,"r":144,"y":3510},{"v":12,"r":148,"y":1200},{"v":12,"r":152,"y":2000},{"v":12,"r":156,"y":2700},{"v":12,"r":160,"y":2850},{"v":12,"r":164,"y":3080},{"v":12,"r":168,"y":2850},{"v":12,"r":172,"y":3080},{"v":12,"r":176,"y":2850},{"v":12,"r":180,"y":3080},{"v":12,"r":184,"y":2850},{"v":12,"r":188,"y":3080},
{"v":12,"r":192,"y":3070},{"v":12,"r":196,"y":2990},{"v":12,"r":200,"y":3070},{"v":12,"r":204,"y":2990},{"v":12,"r":208,"y":3070},{"v":12,"r":212,"y":2990},{"v":12,"r":216,"y":3070},{"v":12,"r":220,"y":2990},{"v":12,"r":224,"y":3070},{"v":12,"r":228,"y":2990},{"v":12,"r":232,"y":3070},{"v":12,"r":236,"y":2990},{"v":12,"r":240,"y":3070},{"v":12,"r":244,"y":2990},{"v":12,"r":248,"y":3070},{"v":12,"r":252,"y":2990},{"v":12,"r":256,"y":3070},{"v":12,"r":260,"y":2990},{"v":12,"r":264,"y":3070},{"v":12,"r":268,"y":2990},{"v":12,"r":272,"y":3070},{"v":12,"r":276,"y":2990},{"v":12,"r":280,"y":3070},{"v":12,"r":284,"y":2990},{"v":12,"r":288,"y":3070},{"v":12,"r":292,"y":2990},{"v":12,"r":296,"y":3070},{"v":12,"r":300,"y":2990},
{"v":13,"r":1,"y":1000},{"v":13,"r":3,"y":2000},{"v":13,"r":5,"y":2300},{"v":13,"r":8,"y":2500},{"v":13,"r":12,"y":2680},{"v":13,"r":16,"y":2840},{"v":13,"r":20,"y":2850},{"v":13,"r":24,"y":3000},{"v":13,"r":28,"y":2980},{"v":13,"r":32,"y":3120},{"v":13,"r":36,"y":3090},{"v":13,"r":40,"y":3220},{"v":13,"r":44,"y":3180},{"v":13,"r":48,"y":3300},{"v":13,"r":52,"y":3260},{"v":13,"r":56,"y":3380},{"v":13,"r":60,"y":3340},{"v":13,"r":64,"y":3450},{"v":13,"r":68,"y":3400},{"v":13,"r":72,"y":3510},{"v":13,"r":76,"y":3460},{"v":13,"r":80,"y":3570},{"v":13,"r":84,"y":3520},{"v":13,"r":88,"y":3630},{"v":13,"r":92,"y":3580},{"v":13,"r":96,"y":3690},{"v":13,"r":100,"y":3640},{"v":13,"r":104,"y":3750},{"v":13,"r":108,"y":3700},{"v":13,"r":112,"y":3810},{"v":13,"r":116,"y":3750},{"v":13,"r":120,"y":3850},{"v":13,"r":124,"y":3790},{"v":13,"r":128,"y":3880},{"v":13,"r":132,"y":3810},{"v":13,"r":136,"y":3900},{"v":13,"r":140,"y":3820},{"v":13,"r":144,"y":3890},
{"v":13,"r":148,"y":3785},{"v":13,"r":152,"y":3855},{"v":13,"r":156,"y":3785},{"v":13,"r":160,"y":3855},{"v":13,"r":164,"y":3785},{"v":13,"r":168,"y":3855},{"v":13,"r":172,"y":3785},{"v":13,"r":176,"y":3855},{"v":13,"r":180,"y":3785},{"v":13,"r":184,"y":3855},{"v":13,"r":188,"y":3785},{"v":13,"r":192,"y":3855},{"v":13,"r":196,"y":3785},{"v":13,"r":200,"y":3855},{"v":13,"r":204,"y":3785},{"v":13,"r":208,"y":3855},{"v":13,"r":212,"y":3785},{"v":13,"r":216,"y":3855},{"v":13,"r":220,"y":3785},{"v":13,"r":224,"y":3855},{"v":13,"r":228,"y":3785},{"v":13,"r":232,"y":3855},{"v":13,"r":236,"y":3785},{"v":13,"r":240,"y":3855},{"v":13,"r":244,"y":3785},{"v":13,"r":248,"y":3855},{"v":13,"r":252,"y":3785},{"v":13,"r":256,"y":3855},{"v":13,"r":260,"y":3785},{"v":13,"r":264,"y":3855},{"v":13,"r":268,"y":3785},{"v":13,"r":272,"y":3855},{"v":13,"r":276,"y":3785},{"v":13,"r":280,"y":3855},{"v":13,"r":284,"y":3785},{"v":13,"r":288,"y":3855},{"v":13,"r":292,"y":3785},{"v":13,"r":296,"y":3855},{"v":13,"r":300,"y":3785},
{"v":14,"r":1,"y":500},{"v":14,"r":3,"y":1300},{"v":14,"r":5,"y":1700},{"v":14,"r":8,"y":1950},{"v":14,"r":12,"y":2130},{"v":14,"r":16,"y":2230},{"v":14,"r":20,"y":2290},
{"v":14,"r":24,"y":2390},{"v":14,"r":28,"y":2310},{"v":14,"r":32,"y":2390},{"v":14,"r":36,"y":2310},{"v":14,"r":40,"y":2390},{"v":14,"r":44,"y":2310},{"v":14,"r":48,"y":2390},{"v":14,"r":52,"y":2310},{"v":14,"r":56,"y":2390},{"v":14,"r":60,"y":2310},{"v":14,"r":64,"y":2390},{"v":14,"r":68,"y":2310},{"v":14,"r":72,"y":2390},{"v":14,"r":76,"y":2310},{"v":14,"r":80,"y":2390},{"v":14,"r":84,"y":2310},{"v":14,"r":88,"y":2390},{"v":14,"r":92,"y":2310},{"v":14,"r":96,"y":2390},{"v":14,"r":100,"y":2310},{"v":14,"r":104,"y":2390},{"v":14,"r":108,"y":2310},{"v":14,"r":112,"y":2390},{"v":14,"r":116,"y":2310},{"v":14,"r":120,"y":2390},{"v":14,"r":124,"y":2310},{"v":14,"r":128,"y":2390},{"v":14,"r":132,"y":2310},{"v":14,"r":136,"y":2390},{"v":14,"r":140,"y":2310},{"v":14,"r":144,"y":2390},{"v":14,"r":148,"y":2310},{"v":14,"r":152,"y":2390},{"v":14,"r":156,"y":2310},{"v":14,"r":160,"y":2390},{"v":14,"r":164,"y":2310},{"v":14,"r":168,"y":2390},{"v":14,"r":172,"y":2310},{"v":14,"r":176,"y":2390},{"v":14,"r":180,"y":2310},{"v":14,"r":184,"y":2390},{"v":14,"r":188,"y":2310},{"v":14,"r":192,"y":2390},{"v":14,"r":196,"y":2310},{"v":14,"r":200,"y":2390},{"v":14,"r":204,"y":2310},{"v":14,"r":208,"y":2390},{"v":14,"r":212,"y":2310},{"v":14,"r":216,"y":2390},{"v":14,"r":220,"y":2310},{"v":14,"r":224,"y":2390},{"v":14,"r":228,"y":2310},{"v":14,"r":232,"y":2390},{"v":14,"r":236,"y":2310},{"v":14,"r":240,"y":2390},{"v":14,"r":244,"y":2310},{"v":14,"r":248,"y":2390},{"v":14,"r":252,"y":2310},{"v":14,"r":256,"y":2390},{"v":14,"r":260,"y":2310},{"v":14,"r":264,"y":2390},{"v":14,"r":268,"y":2310},{"v":14,"r":272,"y":2390},{"v":14,"r":276,"y":2310},{"v":14,"r":280,"y":2390},{"v":14,"r":284,"y":2310},{"v":14,"r":288,"y":2390},{"v":14,"r":292,"y":2310},{"v":14,"r":296,"y":2390},{"v":14,"r":300,"y":2310},
{"v":15,"r":1,"y":1000},{"v":15,"r":3,"y":1500},{"v":15,"r":5,"y":1800},{"v":15,"r":8,"y":2050},{"v":15,"r":12,"y":2300},{"v":15,"r":16,"y":2500},{"v":15,"r":20,"y":2500},{"v":15,"r":24,"y":2670},{"v":15,"r":28,"y":2640},{"v":15,"r":32,"y":2810},{"v":15,"r":36,"y":2780},{"v":15,"r":40,"y":2950},{"v":15,"r":44,"y":2920},{"v":15,"r":48,"y":3090},{"v":15,"r":52,"y":3060},{"v":15,"r":56,"y":3230},{"v":15,"r":60,"y":3200},{"v":15,"r":64,"y":3360},{"v":15,"r":68,"y":3320},{"v":15,"r":72,"y":3480},{"v":15,"r":76,"y":3440},{"v":15,"r":80,"y":3600},{"v":15,"r":84,"y":3560},{"v":15,"r":88,"y":3720},{"v":15,"r":92,"y":3670},{"v":15,"r":96,"y":3820},{"v":15,"r":100,"y":3750},{"v":15,"r":104,"y":3890},{"v":15,"r":108,"y":3820},{"v":15,"r":112,"y":3950},{"v":15,"r":116,"y":3880},{"v":15,"r":120,"y":4010},{"v":15,"r":124,"y":3940},{"v":15,"r":128,"y":4080},{"v":15,"r":132,"y":4010},{"v":15,"r":136,"y":4150},{"v":15,"r":140,"y":4090},{"v":15,"r":144,"y":4230},{"v":15,"r":148,"y":1800},{"v":15,"r":152,"y":3000},
{"v":15,"r":156,"y":3780},{"v":15,"r":160,"y":3880},{"v":15,"r":164,"y":3780},{"v":15,"r":168,"y":3880},{"v":15,"r":172,"y":3780},{"v":15,"r":176,"y":3880},{"v":15,"r":180,"y":3780},{"v":15,"r":184,"y":3880},{"v":15,"r":188,"y":3780},{"v":15,"r":192,"y":3880},{"v":15,"r":196,"y":3780},{"v":15,"r":200,"y":3880},{"v":15,"r":204,"y":3780},{"v":15,"r":208,"y":3880},{"v":15,"r":212,"y":3780},{"v":15,"r":216,"y":3880},{"v":15,"r":220,"y":3780},{"v":15,"r":224,"y":3880},{"v":15,"r":228,"y":3780},{"v":15,"r":232,"y":3880},{"v":15,"r":236,"y":3780},{"v":15,"r":240,"y":3880},{"v":15,"r":244,"y":3780},{"v":15,"r":248,"y":3880},{"v":15,"r":252,"y":3780},{"v":15,"r":256,"y":3880},{"v":15,"r":260,"y":3780},{"v":15,"r":264,"y":3880},{"v":15,"r":268,"y":3780},{"v":15,"r":272,"y":3880},{"v":15,"r":276,"y":3780},{"v":15,"r":280,"y":3880},{"v":15,"r":284,"y":3780},{"v":15,"r":288,"y":3880},{"v":15,"r":292,"y":3780},{"v":15,"r":296,"y":3880},{"v":15,"r":300,"y":3780}
 ]},
 "layer":[
  {"mark":{"type":"line","strokeWidth":10,"opacity":0.6},
   "encoding":{
    "x":{"field":"r","type":"quantitative","scale":{"domain":[0,300],"nice":false,"zero":false},"axis":{"values":[0,50,100,150,200,250,300],"title":"轮次","labelOffset":{"condition":{"test":"datum.value===0","value":-43},"value":0}}},
    "y":{"field":"y","type":"quantitative","scale":{"domain":[0,5000],"nice":false},"axis":{"values":[1000,2000,3000,4000,5000],"labelExpr":"replace(format(datum.value, ','), ',', ' ')","title":"车辆的利润"}},
    "color":{"field":"v","type":"nominal","scale":{"domain":[1,2,3,4,5,6,7,8,9,10,11,12,13,14,15],"range":["#1b8cc0","#a9c23a","#000000","#f0642a","#14e8f0","#ff1a8c","#c55cf0","#f5b000","#e0701c","#16a03c","#a448b0","#6e2a90","#f28cb4","#6aa532","#4a35d0"]},"legend":null}}},
  {"mark":{"type":"line","strokeDash":[8,6],"strokeWidth":2},
   "encoding":{
    "x":{"field":"r","type":"quantitative","scale":{"domain":[0,300],"nice":false,"zero":false},"axis":null},
    "y":{"field":"y","type":"quantitative","scale":{"domain":[0,5000],"nice":false},"axis":null},
    "color":{"field":"v","type":"nominal","scale":{"domain":[1,2,3,4,5,6,7,8,9,10,11,12,13,14,15],"range":["#1b8cc0","#a9c23a","#000000","#f0642a","#14e8f0","#ff1a8c","#c55cf0","#f5b000","#e0701c","#16a03c","#a448b0","#6e2a90","#f28cb4","#6aa532","#4a35d0"]},"legend":null}}},
  {"mark":{"type":"point","filled":false,"strokeWidth":2,"size":150,"opacity":1},
   "encoding":{
    "x":{"field":"r","type":"quantitative","scale":{"domain":[0,300],"nice":false,"zero":false},"axis":null},
    "y":{"field":"y","type":"quantitative","scale":{"domain":[0,5000],"nice":false},"axis":null},
    "color":{"field":"v","type":"nominal","scale":{"domain":[1,2,3,4,5,6,7,8,9,10,11,12,13,14,15],"range":["#1b8cc0","#a9c23a","#000000","#f0642a","#14e8f0","#ff1a8c","#c55cf0","#f5b000","#e0701c","#16a03c","#a448b0","#6e2a90","#f28cb4","#6aa532","#4a35d0"]},"legend":null},
    "shape":{"field":"v","type":"nominal","scale":{"domain":[1,2,3,4,5,6,7,8,9,10,11,12,13,14,15],"range":["M-1,0A1,1 0 1,0 1,0A1,1 0 1,0 -1,0M-1,0H1","M-0.8,-0.8H0.8V0.8H-0.8ZM-0.8,0H0.8","M0,-1L0.65,0L0,1L-0.65,0Z","M0,-1L0.9,0.75L-0.9,0.75Z","M0,1L0.9,-0.75L-0.9,-0.75Z","M1,0L-0.75,0.9L-0.75,-0.9Z","M-1,0L0.75,0.9L0.75,-0.9Z","M0,-1L0.223,-0.307L0.951,-0.309L0.361,0.117L0.588,0.809L0,0.38L-0.588,0.809L-0.361,0.117L-0.951,-0.309L-0.223,-0.307Z","M0,-1L0.866,0.5L-0.866,0.5ZM0,1L0.866,-0.5L-0.866,-0.5Z","M-1,0H1M0,-1V1","M-0.7,-0.7L0.7,0.7M-0.7,0.7L0.7,-0.7","M0,-1V1M-0.87,-0.5L0.87,0.5M-0.87,0.5L0.87,-0.5","M-0.5,0H0.5M0,-0.5V0.5","M-0.8,-0.8H0.8V0.8H-0.8ZM-0.8,-0.27H0.8M-0.8,0.27H0.8","M0,-1L0.65,0L0,1L-0.65,0ZM-0.65,0H0.65"]},"legend":null}}},
  {"transform":[{"filter":"datum.r < 0"}],
   "mark":{"type":"point","filled":false,"strokeWidth":2},
   "encoding":{
    "x":{"field":"r","type":"quantitative","scale":{"domain":[0,300],"nice":false,"zero":false},"axis":null},
    "y":{"field":"y","type":"quantitative","scale":{"domain":[0,5000],"nice":false},"axis":null},
    "color":{"field":"v","type":"nominal","scale":{"domain":[1,2,3,4,5,6,7,8,9,10,11,12,13,14,15],"range":["#1b8cc0","#a9c23a","#000000","#f0642a","#14e8f0","#ff1a8c","#c55cf0","#f5b000","#e0701c","#16a03c","#a448b0","#6e2a90","#f28cb4","#6aa532","#4a35d0"]},"legend":{"orient":"none","legendX":-21,"legendY":719,"labelExpr":"'车辆' + datum.label"}},
    "shape":{"field":"v","type":"nominal","scale":{"domain":[1,2,3,4,5,6,7,8,9,10,11,12,13,14,15],"range":["M-4.4,0H-2M2,0H4.4M-1,0A1,1 0 1,0 1,0A1,1 0 1,0 -1,0M-1,0H1","M-4.4,0H-2M2,0H4.4M-0.8,-0.8H0.8V0.8H-0.8ZM-0.8,0H0.8","M-4.4,0H-2M2,0H4.4M0,-1L0.65,0L0,1L-0.65,0Z","M-4.4,0H-2M2,0H4.4M0,-1L0.9,0.75L-0.9,0.75Z","M-4.4,0H-2M2,0H4.4M0,1L0.9,-0.75L-0.9,-0.75Z","M-4.4,0H-2M2,0H4.4M1,0L-0.75,0.9L-0.75,-0.9Z","M-4.4,0H-2M2,0H4.4M-1,0L0.75,0.9L0.75,-0.9Z","M-4.4,0H-2M2,0H4.4M0,-1L0.223,-0.307L0.951,-0.309L0.361,0.117L0.588,0.809L0,0.38L-0.588,0.809L-0.361,0.117L-0.951,-0.309L-0.223,-0.307Z","M-4.4,0H-2M2,0H4.4M0,-1L0.866,0.5L-0.866,0.5ZM0,1L0.866,-0.5L-0.866,-0.5Z","M-4.4,0H-2M2,0H4.4M-1,0H1M0,-1V1","M-4.4,0H-2M2,0H4.4M-0.7,-0.7L0.7,0.7M-0.7,0.7L0.7,-0.7","M-4.4,0H-2M2,0H4.4M0,-1V1M-0.87,-0.5L0.87,0.5M-0.87,0.5L0.87,-0.5","M-4.4,0H-2M2,0H4.4M-0.5,0H0.5M0,-0.5V0.5","M-4.4,0H-2M2,0H4.4M-0.8,-0.8H0.8V0.8H-0.8ZM-0.8,-0.27H0.8M-0.8,0.27H0.8","M-4.4,0H-2M2,0H4.4M0,-1L0.65,0L0,1L-0.65,0ZM-0.65,0H0.65"]},"legend":{"orient":"none","legendX":-21,"legendY":719,"labelExpr":"'车辆' + datum.label"}}}},
  {"mark":{"type":"point","opacity":0},
   "encoding":{
    "x":{"field":"r","type":"quantitative","scale":{"domain":[0,300],"nice":false,"zero":false},"axis":{"orient":"top","labels":false,"title":null,"values":[50,100,150,200,250]}},
    "y":{"field":"y","type":"quantitative","scale":{"domain":[0,5000],"nice":false},"axis":{"orient":"right","labels":false,"title":null,"values":[1000,2000,3000,4000]}}}}
 ],
 "resolve":{"axis":{"x":"independent","y":"independent"},"scale":{"color":"independent","shape":"independent"}}
}
]
}
